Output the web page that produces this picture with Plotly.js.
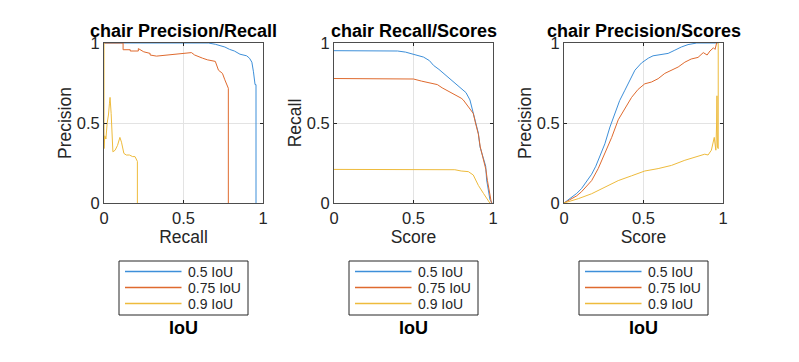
<!DOCTYPE html>
<html>
<head>
<meta charset="utf-8">
<script src="https://cdn.plot.ly/plotly-3.0.1.min.js"></script>
<style>html,body{margin:0;padding:0;background:#fff;}#chart{width:799px;height:362px;}</style>
</head>
<body>
<div id="chart"></div>
<script>
// ---- Data ----
const seriesNames = ['0.5 IoU', '0.75 IoU', '0.9 IoU'];
const panelTitles = ['chair Precision/Recall', 'chair Recall/Scores', 'chair Precision/Scores'];
const xTitles = ['Recall', 'Score', 'Score'];
const yTitles = ['Precision', 'Recall', 'Precision'];
const tickVals = [0, 0.5, 1];
const tickText = ['0', '0.5', '1'];
const legendTitle = 'IoU';

// Panel 1: Precision vs Recall
const pr_recall_50 = [0, 0.656, 0.70, 0.73, 0.76, 0.79, 0.82, 0.855, 0.88, 0.897, 0.915, 0.93, 0.94, 0.945, 0.95, 0.956, 0.956];
const pr_prec_50   = [1, 1, 0.992, 0.985, 0.975, 0.96, 0.95, 0.93, 0.925, 0.92, 0.905, 0.88, 0.82, 0.78, 0.74, 0.74, 0];
const pr_recall_75 = [0, 0.12, 0.12, 0.165, 0.165, 0.216, 0.216, 0.25, 0.29, 0.29, 0.33, 0.40, 0.47, 0.55, 0.57, 0.59, 0.62, 0.65, 0.70, 0.72, 0.745, 0.76, 0.78, 0.782, 0.782];
const pr_prec_75   = [1, 1, 0.958, 0.958, 0.95, 0.95, 0.965, 0.945, 0.935, 0.925, 0.918, 0.925, 0.93, 0.94, 0.925, 0.915, 0.905, 0.895, 0.885, 0.83, 0.81, 0.77, 0.73, 0.717, 0];
const pr_recall_90 = [0, 0, 0.005, 0.012, 0.02, 0.028, 0.034, 0.038, 0.045, 0.05, 0.056, 0.07, 0.085, 0.1, 0.11, 0.125, 0.14, 0.16, 0.18, 0.195, 0.205, 0.21, 0.21];
const pr_prec_90   = [1, 0.34, 0.42, 0.40, 0.5, 0.55, 0.62, 0.66, 0.56, 0.42, 0.32, 0.33, 0.36, 0.41, 0.38, 0.31, 0.30, 0.30, 0.29, 0.29, 0.27, 0.26, 0];

// Panel 2: Recall vs Score
const rs_score_50 = [0, 0.40, 0.45, 0.5, 0.53, 0.563, 0.6, 0.626, 0.66, 0.69, 0.72, 0.752, 0.78, 0.805, 0.83, 0.855, 0.87, 0.887, 0.908, 0.918, 0.93, 0.939, 0.954, 0.96, 0.97, 0.981, 0.994];
const rs_rec_50   = [0.952, 0.95, 0.943, 0.93, 0.925, 0.912, 0.89, 0.86, 0.835, 0.81, 0.785, 0.756, 0.735, 0.715, 0.69, 0.644, 0.59, 0.52, 0.436, 0.352, 0.31, 0.27, 0.23, 0.144, 0.08, 0.02, 0];
const rs_score_75 = [0, 0.45, 0.5, 0.55, 0.6, 0.65, 0.68, 0.72, 0.76, 0.8, 0.813, 0.84, 0.876, 0.89, 0.908, 0.92, 0.94, 0.955, 0.965, 0.975, 0.985, 0.99];
const rs_rec_75   = [0.778, 0.778, 0.775, 0.762, 0.75, 0.74, 0.72, 0.70, 0.68, 0.655, 0.644, 0.61, 0.56, 0.50, 0.43, 0.35, 0.27, 0.21, 0.14, 0.08, 0.02, 0];
const rs_score_90 = [0, 0.5, 0.76, 0.8, 0.845, 0.876, 0.908, 0.94, 0.97, 0.98];
const rs_rec_90   = [0.21, 0.21, 0.208, 0.2, 0.196, 0.175, 0.11, 0.06, 0.02, 0];

// Panel 3: Precision vs Score
const ps_score_50 = [0, 0.048, 0.08, 0.11, 0.14, 0.174, 0.2, 0.226, 0.257, 0.289, 0.32, 0.35, 0.383, 0.414, 0.446, 0.487, 0.53, 0.56, 0.59, 0.625, 0.655, 0.697, 0.738, 0.78, 0.835, 0.97];
const ps_prec_50  = [0, 0.0375, 0.06, 0.09, 0.13, 0.18, 0.23, 0.29, 0.37, 0.475, 0.56, 0.64, 0.705, 0.77, 0.83, 0.875, 0.905, 0.92, 0.925, 0.93, 0.935, 0.955, 0.975, 0.99, 1, 1];
const ps_score_75 = [0, 0.048, 0.08, 0.11, 0.14, 0.174, 0.215, 0.257, 0.3, 0.341, 0.383, 0.425, 0.466, 0.508, 0.55, 0.592, 0.634, 0.676, 0.718, 0.76, 0.8, 0.843, 0.876, 0.9, 0.918, 0.94, 0.95, 0.96];
const ps_prec_75  = [0, 0.027, 0.045, 0.07, 0.1, 0.14, 0.215, 0.31, 0.41, 0.52, 0.59, 0.66, 0.71, 0.745, 0.756, 0.777, 0.81, 0.83, 0.85, 0.88, 0.9, 0.91, 0.94, 0.925, 0.95, 0.97, 0.96, 1];
const ps_score_90 = [0, 0.09, 0.174, 0.257, 0.341, 0.425, 0.508, 0.592, 0.676, 0.76, 0.843, 0.885, 0.906, 0.927, 0.945, 0.955, 0.96, 0.962, 0.965, 0.97, 0.97];
const ps_prec_90  = [0, 0.027, 0.058, 0.1, 0.14, 0.17, 0.2, 0.215, 0.235, 0.267, 0.29, 0.305, 0.3, 0.33, 0.41, 0.33, 0.5, 0.67, 0.35, 0.34, 1];

// ---- Styling ----
const colors = ['#3d8fd9', '#df6a2e', '#eebb3c'];
const W = 799, H = 362;
const FONT = 'Liberation Sans, Arial, sans-serif';
const panels = [
  {x0: 104, x1: 263, xs: [pr_recall_50, pr_recall_75, pr_recall_90], ys: [pr_prec_50, pr_prec_75, pr_prec_90]},
  {x0: 334, x1: 493, xs: [rs_score_50, rs_score_75, rs_score_90], ys: [rs_rec_50, rs_rec_75, rs_rec_90]},
  {x0: 564, x1: 723, xs: [ps_score_50, ps_score_75, ps_score_90], ys: [ps_prec_50, ps_prec_75, ps_prec_90]}
];
const yTop = 43, yBot = 203;
const px = v => v / W, py = v => (H - v) / H;

const traces = [];
const layout = {
  width: W, height: H,
  margin: {l: 0, r: 0, t: 0, b: 0},
  paper_bgcolor: '#fff', plot_bgcolor: '#fff',
  font: {family: FONT, color: '#262626'},
  showlegend: false,
  annotations: [],
  shapes: []
};

// legend geometry (relative to panel centre)
const legBox = {dx0: -64.5, dx1: 64.5, y0: 261, y1: 315};
const legRows = [271.5, 287.5, 303.5];

panels.forEach((p, i) => {
  const ax = i === 0 ? '' : String(i + 1);
  for (let s = 0; s < 3; s++) {
    traces.push({
      type: 'scatter', mode: 'lines',
      x: p.xs[s], y: p.ys[s],
      name: seriesNames[s],
      xaxis: 'x' + ax, yaxis: 'y' + ax,
      line: {color: colors[s], width: 1},
      hoverinfo: 'skip'
    });
  }
  const common = {
    range: [0, 1], tickvals: tickVals, ticktext: tickText,
    ticks: 'inside', ticklen: 3, tickcolor: '#262626', tickwidth: 1,
    showline: true, linecolor: '#4d4d4d', linewidth: 1, mirror: 'ticks',
    showgrid: true, gridcolor: '#e3e3e3', gridwidth: 1,
    zeroline: false, fixedrange: true,
    tickfont: {size: 16.5, family: FONT, color: '#262626'}
  };
  layout['xaxis' + ax] = Object.assign({}, common, {
    domain: [px(p.x0), px(p.x1)],
    anchor: 'y' + ax,
    title: {text: xTitles[i], font: {size: 17.5, family: FONT, color: '#262626'}, standoff: 3}
  });
  layout['yaxis' + ax] = Object.assign({}, common, {
    domain: [py(yBot), py(yTop)],
    anchor: 'x' + ax,
    title: {text: yTitles[i], font: {size: 17.5, family: FONT, color: '#262626'}, standoff: 0}
  });
  const cx = (p.x0 + p.x1) / 2;
  // panel title
  layout.annotations.push({
    xref: 'paper', yref: 'paper', x: px(cx), y: py(43),
    xanchor: 'center', yanchor: 'bottom', showarrow: false,
    text: '<b>' + panelTitles[i] + '</b>',
    font: {size: 18, family: FONT, color: '#000'}
  });
  // legend box
  layout.shapes.push({
    type: 'rect', xref: 'paper', yref: 'paper',
    x0: px(cx + legBox.dx0), x1: px(cx + legBox.dx1), y0: py(legBox.y0), y1: py(legBox.y1),
    line: {color: '#262626', width: 1}, fillcolor: 'rgba(255,255,255,0)'
  });
  for (let s = 0; s < 3; s++) {
    layout.shapes.push({
      type: 'line', xref: 'paper', yref: 'paper',
      x0: px(cx - 58.5), x1: px(cx - 2), y0: py(legRows[s]), y1: py(legRows[s]),
      line: {color: colors[s], width: 1.4}
    });
    layout.annotations.push({
      xref: 'paper', yref: 'paper', x: px(cx + 2), y: py(legRows[s]),
      xanchor: 'left', yanchor: 'middle', showarrow: false,
      text: seriesNames[s],
      font: {size: 14, family: FONT, color: '#262626'}
    });
  }
  // legend title below box
  layout.annotations.push({
    xref: 'paper', yref: 'paper', x: px(cx), y: py(328),
    xanchor: 'center', yanchor: 'middle', showarrow: false,
    text: '<b>' + legendTitle + '</b>',
    font: {size: 18, family: FONT, color: '#000'}
  });
});

Plotly.newPlot('chart', traces, layout, {displayModeBar: false, staticPlot: true});
</script>
</body>
</html>
